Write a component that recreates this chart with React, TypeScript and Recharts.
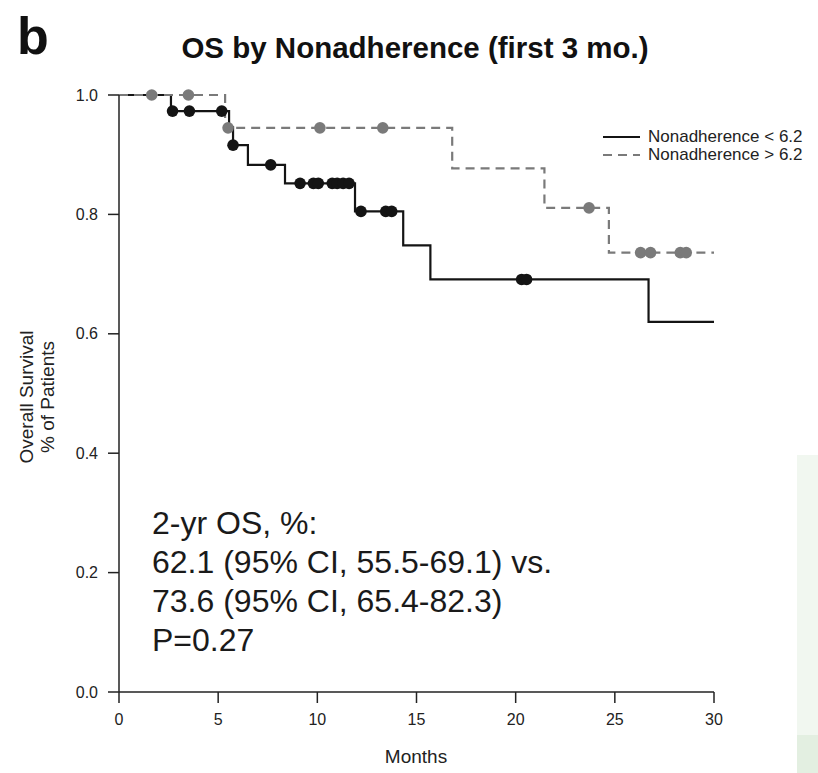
import { ComposedChart, Line, Scatter, XAxis, YAxis } from 'recharts';

// Kaplan-Meier steps (months, survival fraction)
const lowSteps = [
  { x: 0, y: 1 },
  { x: 2.62, y: 0.973 },
  { x: 5.55, y: 0.946 },
  { x: 5.75, y: 0.916 },
  { x: 6.5, y: 0.883 },
  { x: 8.37, y: 0.852 },
  { x: 11.9, y: 0.805 },
  { x: 14.33, y: 0.748 },
  { x: 15.7, y: 0.691 },
  { x: 26.7, y: 0.62 },
  { x: 30, y: 0.62 },
];

const highSteps = [
  { x: 0, y: 1 },
  { x: 5.35, y: 0.945 },
  { x: 16.8, y: 0.877 },
  { x: 21.45, y: 0.811 },
  { x: 24.7, y: 0.736 },
  { x: 30, y: 0.736 },
];

// censoring marks
const lowCensored = [
  { x: 2.7, y: 0.973 },
  { x: 3.55, y: 0.973 },
  { x: 5.18, y: 0.973 },
  { x: 5.75, y: 0.916 },
  { x: 7.65, y: 0.883 },
  { x: 9.13, y: 0.852 },
  { x: 9.8, y: 0.852 },
  { x: 10.05, y: 0.852 },
  { x: 10.75, y: 0.852 },
  { x: 11.0, y: 0.852 },
  { x: 11.3, y: 0.852 },
  { x: 11.6, y: 0.852 },
  { x: 12.2, y: 0.805 },
  { x: 13.45, y: 0.805 },
  { x: 13.75, y: 0.805 },
  { x: 20.3, y: 0.691 },
  { x: 20.55, y: 0.691 },
];

const highCensored = [
  { x: 1.65, y: 1 },
  { x: 3.5, y: 1 },
  { x: 5.5, y: 0.945 },
  { x: 10.13, y: 0.945 },
  { x: 13.3, y: 0.945 },
  { x: 23.7, y: 0.811 },
  { x: 26.3, y: 0.736 },
  { x: 26.8, y: 0.736 },
  { x: 28.3, y: 0.736 },
  { x: 28.6, y: 0.736 },
];

const xTicks = [0, 5, 10, 15, 20, 25, 30];
const yTicks = [0, 0.2, 0.4, 0.6, 0.8, 1.0];
const legendLabels = ['Nonadherence < 6.2', 'Nonadherence > 6.2'];
const noteLines = [
  '2-yr OS, %:',
  '62.1 (95% CI, 55.5-69.1) vs.',
  '73.6 (95% CI, 65.4-82.3)',
  'P=0.27',
];

const FONT = 'Arial, "Liberation Sans", Helvetica, sans-serif';
const BLACK = '#141414';
const GREY = '#7a7a7a';

const dot = (fill: string) => (props: any) => (
  <circle cx={props.cx} cy={props.cy} r={5.8} fill={fill} />
);

export default function App() {
  return (
    <div style={{ position: 'absolute', left: 0, top: 0, width: 818, height: 773, background: '#fff' }}>
      {/* plot area: x 119..714, y 95..692 */}
      <ComposedChart
        width={818}
        height={773}
        margin={{ top: 95, right: 104, bottom: 51, left: 59 }}
      >
        <XAxis
          type="number"
          dataKey="x"
          domain={[0, 30]}
          ticks={xTicks}
          height={30}
          tickSize={11}
          tickMargin={11}
          stroke="#222"
          strokeWidth={1.5}
          tick={{ fill: '#222', fontSize: 16, fontFamily: FONT }}
        />
        <YAxis
          type="number"
          dataKey="y"
          domain={[0, 1]}
          ticks={yTicks}
          width={60}
          tickSize={11}
          tickMargin={10}
          stroke="#222"
          strokeWidth={1.5}
          tickFormatter={(v: number) => v.toFixed(1)}
          tick={{ fill: '#222', fontSize: 16, fontFamily: FONT }}
        />
        <Line
          data={lowSteps}
          dataKey="y"
          type="stepAfter"
          stroke={BLACK}
          strokeWidth={2.2}
          dot={false}
          activeDot={false}
          isAnimationActive={false}
        />
        <Line
          data={highSteps}
          dataKey="y"
          type="stepAfter"
          stroke={GREY}
          strokeWidth={2.2}
          strokeDasharray="9 6"
          dot={false}
          activeDot={false}
          isAnimationActive={false}
        />
        <Scatter data={lowCensored} dataKey="y" shape={dot(BLACK)} isAnimationActive={false} />
        <Scatter data={highCensored} dataKey="y" shape={dot(GREY)} isAnimationActive={false} />
      </ComposedChart>

      <svg
        width={818}
        height={773}
        style={{ position: 'absolute', left: 0, top: 0, pointerEvents: 'none' }}
        fontFamily={FONT}
      >
        {/* faint green strip at the right edge of the source image */}
        <rect x={797} y={455} width={21} height={318} fill="#f1f7f0" />
        <rect x={797} y={735} width={21} height={38} fill="#e3efe1" />

        <text x={17} y={54} fontSize={52} fontWeight="bold" fill="#111">b</text>
        <text x={415} y={58} fontSize={29.5} fontWeight="bold" fill="#111" textAnchor="middle">
          OS by Nonadherence (first 3 mo.)
        </text>

        {/* legend */}
        <line x1={603} x2={640} y1={137} y2={137} stroke={BLACK} strokeWidth={2} />
        <line x1={603} x2={640} y1={155} y2={155} stroke={GREY} strokeWidth={2} strokeDasharray="9 6" />
        <text x={648} y={142} fontSize={17} fill="#222">{legendLabels[0]}</text>
        <text x={648} y={160} fontSize={17} fill="#222">{legendLabels[1]}</text>

        <text transform="translate(33,397) rotate(-90)" fontSize={19} fill="#222" textAnchor="middle">
          Overall Survival
        </text>
        <text transform="translate(54,397) rotate(-90)" fontSize={19} fill="#222" textAnchor="middle">
          % of Patients
        </text>
        <text x={416} y={763} fontSize={19} fill="#222" textAnchor="middle">Months</text>

        {noteLines.map((t, i) => (
          <text key={i} x={152} y={534 + i * 39} fontSize={32} fill="#1a1a1a">{t}</text>
        ))}
      </svg>
    </div>
  );
}
